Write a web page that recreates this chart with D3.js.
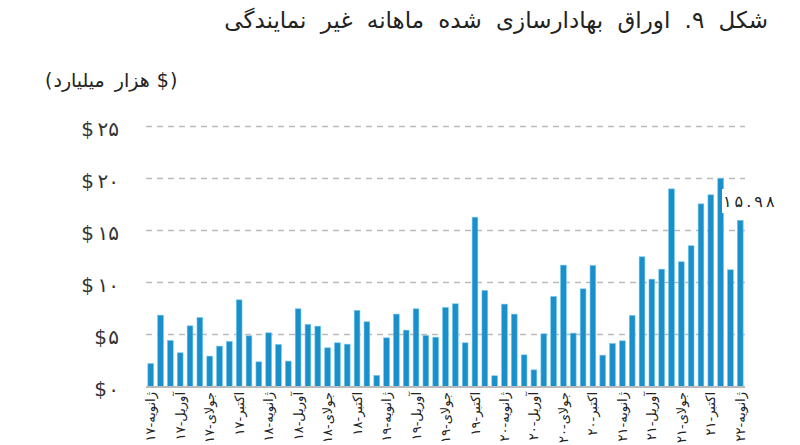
<!DOCTYPE html>
<html><head><meta charset="utf-8">
<script src="https://cdn.jsdelivr.net/npm/d3@7"></script>
<style>
body{margin:0;background:#fff;}
text{font-family:"DejaVu Sans",sans-serif;}
</style></head>
<body>
<svg id="chart" width="800" height="445"></svg>
<script>
const title = "شکل ۹. اوراق بهادارسازی شده ماهانه غیر نمایندگی";
const unitParts = ["(", "هزار میلیارد", "$", ")"];
const months = [
 "2017-01","2017-02","2017-03","2017-04","2017-05","2017-06","2017-07","2017-08","2017-09","2017-10","2017-11","2017-12",
 "2018-01","2018-02","2018-03","2018-04","2018-05","2018-06","2018-07","2018-08","2018-09","2018-10","2018-11","2018-12",
 "2019-01","2019-02","2019-03","2019-04","2019-05","2019-06","2019-07","2019-08","2019-09","2019-10","2019-11","2019-12",
 "2020-01","2020-02","2020-03","2020-04","2020-05","2020-06","2020-07","2020-08","2020-09","2020-10","2020-11","2020-12",
 "2021-01","2021-02","2021-03","2021-04","2021-05","2021-06","2021-07","2021-08","2021-09","2021-10","2021-11","2021-12",
 "2022-01"
];
const values = [
 2.2,6.86,4.42,3.24,5.83,6.63,2.92,3.88,4.33,8.33,4.87,2.37,
 5.16,4.04,2.44,7.47,5.96,5.8,3.72,4.2,4.07,7.31,6.22,1.06,
 4.68,6.96,5.42,7.47,4.9,4.74,7.6,7.95,4.2,16.28,9.23,1.03,
 7.92,6.96,3.04,1.6,5.06,8.65,11.67,5.13,9.39,11.63,3.01,4.13,
 4.39,6.83,12.47,10.32,11.28,19.0,11.99,13.53,17.56,18.43,20.0,11.22,
 15.98
];
const tickLabels = [
 "ژانویه-۱۷","آوریل-۱۷","جولای-۱۷","اکتبر-۱۷",
 "ژانویه-۱۸","آوریل-۱۸","جولای-۱۸","اکتبر-۱۸",
 "ژانویه-۱۹","آوریل-۱۹","جولای-۱۹","اکتبر-۱۹",
 "ژانویه-۲۰","آوریل-۲۰","جولای-۲۰","اکتبر-۲۰",
 "ژانویه-۲۱","آوریل-۲۱","جولای-۲۱","اکتبر-۲۱",
 "ژانویه-۲۲"
];
const yTicks = [0,5,10,15,20,25];
const yTickDigits = ["۰","۵","۱۰","۱۵","۲۰","۲۵"];
const currency = "$";
const lastValueLabel = "۱۵.۹۸";

const svg = d3.select("#chart");
const x = d3.scaleBand().domain(months).range([146,745]).paddingInner(0.42).paddingOuter(0.19);
const y = d3.scaleLinear().domain([0,25]).range([386.5,126.5]);

// title
svg.append("text").attr("x",768).attr("y",28).attr("text-anchor","end")
  .attr("font-size",23).attr("word-spacing",7).attr("fill","#222").text(title);

// unit label, pieces laid out left to right
let ux = 45;
const gu = svg.append("g");
unitParts.forEach((p,i)=>{
  const t = gu.append("text").attr("x",ux).attr("y",87).attr("font-size",19)
    .attr("word-spacing",4).attr("fill","#222").text(p);
  ux += t.node().getComputedTextLength() + (i===1 ? 7 : 1);
});

// grid
svg.append("g").selectAll("line").data(yTicks.filter(d=>d>0)).join("line")
  .attr("x1",146).attr("x2",745).attr("y1",d=>y(d)).attr("y2",d=>y(d))
  .attr("stroke","#bbb").attr("stroke-width",1.5).attr("stroke-dasharray","6,5");

// y labels: digits right-aligned, currency sign placed before them
const gy = svg.append("g").selectAll("g").data(yTicks).join("g")
  .attr("transform",d=>`translate(0,${y(d)+2})`);
gy.append("text").attr("x",119).attr("dy","0.36em").attr("text-anchor","end")
  .attr("font-size",20).attr("fill","#333").text((d,i)=>yTickDigits[i]);
gy.append("text").attr("x",(d,i)=>yTickDigits[i].length>1 ? 94 : 107).attr("dy","0.36em")
  .attr("text-anchor","end").attr("font-size",20).attr("fill","#333").text(currency);

// bars
svg.append("g").selectAll("rect").data(values).join("rect")
  .attr("x",(d,i)=>x(months[i])).attr("width",x.bandwidth())
  .attr("y",d=>y(d)).attr("height",d=>y(0)-y(d))
  .attr("fill","#1a8fca").attr("stroke","#6cc4ec").attr("stroke-width",0.6);

// baseline
svg.append("line").attr("x1",146).attr("x2",745).attr("y1",y(0)+0.5).attr("y2",y(0)+0.5)
  .attr("stroke","#bbb").attr("stroke-width",2);

// x labels
const tickMonths = months.filter((d,i)=>i%3===0);
const gx = svg.append("g").selectAll("g").data(tickMonths).join("g")
  .attr("transform",d=>`translate(${x(d)+x.bandwidth()/2},392) rotate(-90)`);
gx.append("text").attr("text-anchor","end").attr("dy","0.35em")
  .attr("font-size",13).attr("fill","#222").text((d,i)=>tickLabels[i]);

// last value label
svg.append("rect").attr("x",722).attr("y",189).attr("width",62).attr("height",24).attr("fill","#fff");
svg.append("text").attr("x",723).attr("y",207).attr("font-size",16).attr("dx","0 3 3 3 3")
  .attr("fill","#222").text(lastValueLabel);
</script>
</body></html>
